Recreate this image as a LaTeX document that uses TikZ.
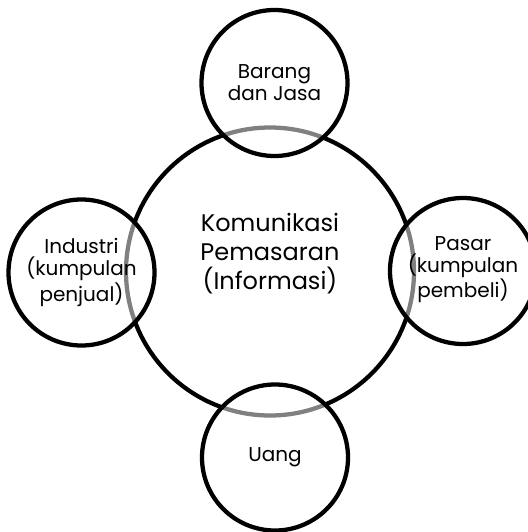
\documentclass[tikz,border=0pt]{standalone}
\usepackage{fontspec}
\setmainfont{Poppins}
\begin{document}
\begin{tikzpicture}[x=0.75pt,y=-0.75pt]
	\tikzstyle{hub}=[draw,line width=3.2pt,shape=circle,minimum size=216pt,inner sep=0pt,align=center,font=\fontsize{18}{21.75}\selectfont]
	\tikzstyle{unit}=[draw,line width=3.2pt,shape=circle,minimum size=109.5pt,inner sep=0pt,fill=white,fill opacity=0.5,text opacity=1,align=center,font=\fontsize{15}{16.5}\selectfont]

	\clip (0,0) rectangle (528,532);

	\node[hub](kom) at (270,271.5){Komunikasi\\Pemasaran\\(Informasi)\\[8pt]};

	\node[unit](brg) at (274.5,83){Barang\\dan Jasa};
	\node[unit](ind) at (81.5,272.5){Industri\\(kumpulan\\penjual)};
	\node[unit](psr) at (463,271){\\[-8pt]Pasar\\(kumpulan\\pembeli)};
	\node[unit](uang) at (275,457.5){Uang};

\end{tikzpicture}
\end{document}
